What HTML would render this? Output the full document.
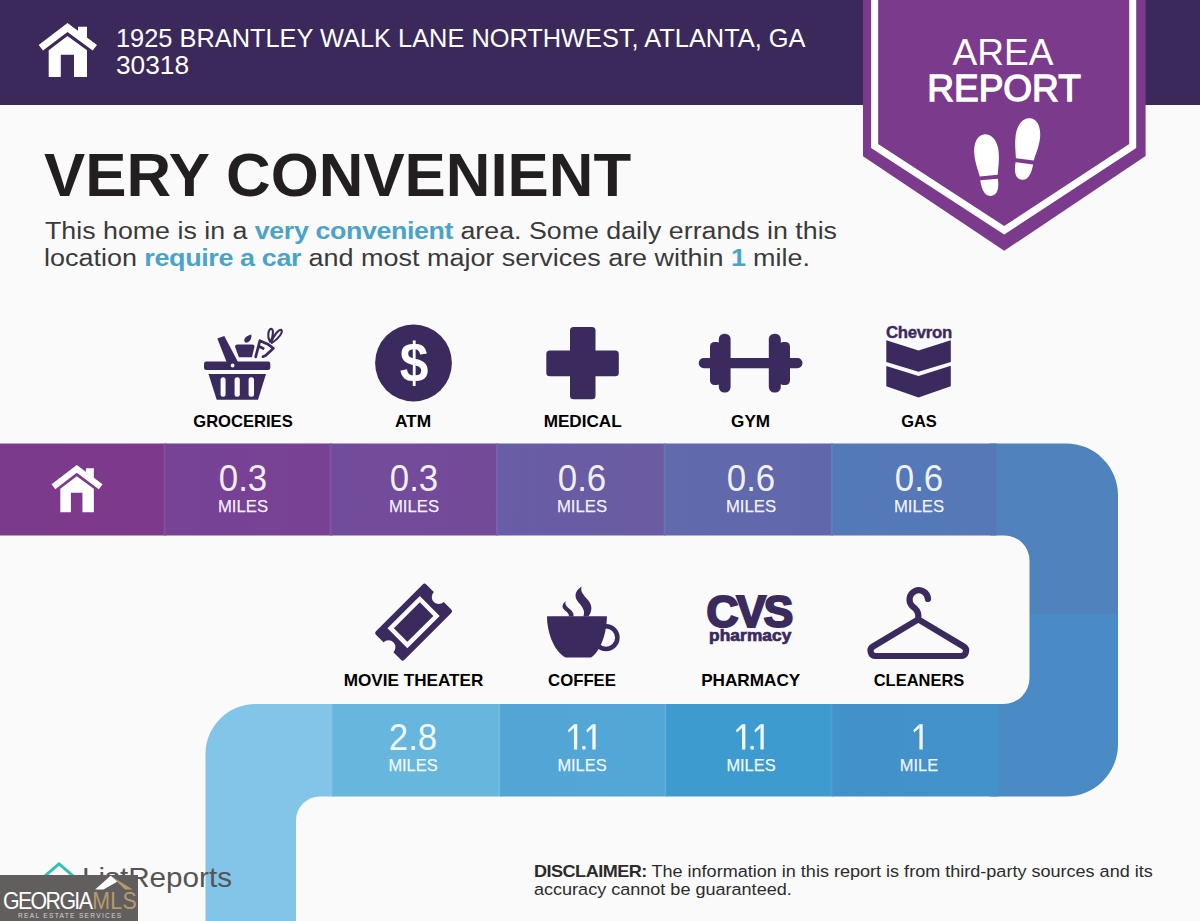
<!DOCTYPE html>
<html>
<head>
<meta charset="utf-8">
<title>Area Report</title>
<style>
html,body{margin:0;padding:0;}
body{width:1200px;height:921px;overflow:hidden;background:#fafafa;font-family:"Liberation Sans",sans-serif;}
#page{position:relative;width:1200px;height:921px;overflow:hidden;background:#fafafa;}
.t{position:absolute;white-space:nowrap;line-height:1;transform-origin:0 0;margin:0;}
.c{transform-origin:50% 0;}
#hdr{position:absolute;left:0;top:0;width:1200px;height:105px;background:#3b295c;}
.addr{color:#fff;font-size:25.5px;left:115.5px;transform:scaleX(0.995);}
.title{color:#231f20;font-size:61.2px;font-weight:700;left:43.7px;top:144.6px;transform:scaleX(1.010);}
.para{color:#3a3a3a;font-size:24.35px;left:45px;transform:scaleX(1.092);}
.para b{color:#4aa3c9;font-weight:700;letter-spacing:-0.35px;}
.lbl{color:#000;font-size:17.15px;font-weight:700;}
.num{color:rgba(255,255,255,0.92);font-size:36.5px;}
.mi{color:rgba(255,255,255,0.92);font-size:17px;-webkit-text-stroke:0.25px rgba(255,255,255,0.9);}
.disc{color:#2b2b2b;font-size:16.3px;left:534px;transform:scaleX(1.108);}
.disc b{letter-spacing:-0.45px;}
svg{position:absolute;left:0;top:0;}
</style>
</head>
<body>
<div id="page">
<div id="hdr"></div>

<!-- ribbon + graphics -->
<svg id="gfx" width="1200" height="921" viewBox="0 0 1200 921">
<defs>
<clipPath id="rib"><path d="M0,443.4 H1066 A52,52 0 0 1 1118,495.4 V744.4 A52,52 0 0 1 1066,796.4 H320 A24,24 0 0 0 296,820.4 V921 H205.5 V754 A50,50 0 0 1 255.5,704 H1003.5 A26,26 0 0 0 1029.5,678 V560.5 A25,25 0 0 0 1004.5,535.5 H0 Z"/></clipPath>
<linearGradient id="g1" x1="0" x2="1"><stop offset="0" stop-color="#7c3a8c"/><stop offset="1" stop-color="#7d3a8c"/></linearGradient>
<linearGradient id="g2" x1="0" x2="1"><stop offset="0" stop-color="#764396"/><stop offset="1" stop-color="#794194"/></linearGradient>
<linearGradient id="g3" x1="0" x2="1"><stop offset="0" stop-color="#724c9c"/><stop offset="1" stop-color="#734a98"/></linearGradient>
<linearGradient id="g4" x1="0" x2="1"><stop offset="0" stop-color="#685da6"/><stop offset="1" stop-color="#6b5ba2"/></linearGradient>
<linearGradient id="g5" x1="0" x2="1"><stop offset="0" stop-color="#606aad"/><stop offset="1" stop-color="#6267ab"/></linearGradient>
<linearGradient id="g6" x1="0" x2="1"><stop offset="0" stop-color="#5479b9"/><stop offset="1" stop-color="#5678b7"/></linearGradient>
<linearGradient id="h3" x1="0" x2="1"><stop offset="0" stop-color="#52a5d5"/><stop offset="1" stop-color="#53a7d6"/></linearGradient>
<linearGradient id="h5" x1="0" x2="1"><stop offset="0" stop-color="#4391cb"/><stop offset="1" stop-color="#4392cc"/></linearGradient>
</defs>
<g clip-path="url(#rib)">
<rect x="990" y="440" width="135" height="174" fill="#5082be"/>
<rect x="990" y="614" width="135" height="190" fill="#4a8ac5"/>
<rect x="0" y="440" width="166" height="100" fill="url(#g1)"/>
<rect x="164" y="440" width="168" height="100" fill="url(#g2)"/>
<rect x="330" y="440" width="168" height="100" fill="url(#g3)"/>
<rect x="496.3" y="440" width="169" height="100" fill="url(#g4)"/>
<rect x="664" y="440" width="169" height="100" fill="url(#g5)"/>
<rect x="831.25" y="440" width="165.25" height="100" fill="url(#g6)"/>
<rect x="200" y="700" width="134" height="225" fill="#83c5e8"/>
<rect x="332.3" y="700" width="169" height="100" fill="#66b6de"/>
<rect x="500" y="700" width="167" height="100" fill="url(#h3)"/>
<rect x="666" y="700" width="167" height="100" fill="#3e9bd0"/>
<rect x="831.75" y="700" width="166.75" height="100" fill="url(#h5)"/>
<g fill="#fff" fill-opacity="0.07">
<rect x="163.5" y="440" width="2" height="100"/><rect x="329.5" y="440" width="2" height="100"/><rect x="495.8" y="440" width="2" height="100"/><rect x="663.5" y="440" width="2" height="100"/><rect x="830.7" y="440" width="2" height="100"/>
<rect x="498" y="700" width="2.5" height="100"/><rect x="664.5" y="700" width="2" height="100"/><rect x="830.5" y="700" width="2" height="100"/>
</g>
</g>

<!-- narrow 1 glyphs --><g fill="#fff" fill-opacity="0.93"><rect x="573.95" y="724.2" width="3.3" height="25.3"/><path d="M573.95,724.2 L567.85,730.20 L568.80,732.50 L573.95,728.10 Z"/><rect x="592.35" y="724.2" width="3.3" height="25.3"/><path d="M592.35,724.2 L586.25,730.20 L587.20,732.50 L592.35,728.10 Z"/><circle cx="583.9" cy="747.7" r="1.95"/><rect x="742.05" y="724.2" width="3.3" height="25.3"/><path d="M742.05,724.2 L735.95,730.20 L736.90,732.50 L742.05,728.10 Z"/><rect x="760.45" y="724.2" width="3.3" height="25.3"/><path d="M760.45,724.2 L754.35,730.20 L755.30,732.50 L760.45,728.10 Z"/><circle cx="752.1" cy="747.7" r="1.95"/><rect x="919.40" y="724.2" width="3.3" height="25.3"/><path d="M919.40,724.2 L913.30,730.20 L914.25,732.50 L919.40,728.10 Z"/></g>
<!-- badge -->
<path d="M863,0 V156.3 L1004.2,250.8 L1145.6,156 V0 Z" fill="#7c3a8d"/>
<path d="M874.65,-5 V146 L1004.2,230.3 L1132.7,146 V-5" fill="none" stroke="#fff" stroke-width="7" stroke-linejoin="miter"/>
<!-- footprints -->
<g fill="#fff">
<g transform="translate(987.3,165.2) rotate(-5)">
<path d="M0,-31 C8,-31 12.5,-22 12.5,-12 C12.5,-3 10.5,4 9.5,10.5 L-8.5,10.5 C-9.5,4 -12,-3 -12,-12 C-12,-22 -8,-31 0,-31 Z"/>
<path d="M-8.3,14.5 L9.3,14.5 C9.8,22 8.5,31 1,31 C-6,31 -8,22 -8.3,14.5 Z"/>
</g>
<g transform="translate(1026.6,149) rotate(7)">
<path d="M0,-31 C8,-31 12,-22 12,-12 C12,-3 9.5,4 8.5,10.5 L-9.5,10.5 C-10.5,4 -12.5,-3 -12.5,-12 C-12.5,-22 -8,-31 0,-31 Z"/>
<path d="M-9.3,14.5 L8.3,14.5 C8,22 6,31 -1,31 C-8.5,31 -9.8,22 -9.3,14.5 Z"/>
</g>
</g>
<!-- house symbol -->
<g id="house" fill="#fff">
<path d="M67.5,23 L97,44.9 L92.7,50.6 L67.5,31.9 L43,50.6 L38.7,44.9 Z"/>
<path d="M78,26.7 H87 V38.4 L78,31.6 Z"/>
<path d="M67.5,35.9 L87,50.2 V77 H74 V54.7 H60.8 V77 H48.7 V50.2 Z"/>
</g>
<g fill="#fff" transform="translate(17.7,444.9) scale(0.875)">
<path d="M67.5,23 L97,44.9 L92.7,50.6 L67.5,31.9 L43,50.6 L38.7,44.9 Z"/>
<path d="M78,26.7 H87 V38.4 L78,31.6 Z"/>
<path d="M67.5,35.9 L87,50.2 V77 H74 V54.7 H60.8 V77 H48.7 V50.2 Z"/>
</g>
<!-- groceries -->
<g fill="#3b2a5e">
<rect x="204" y="361.5" width="66.3" height="8.4" rx="2.2"/>
<path d="M208.5,374 H266 L258,399.7 H216.7 Z"/>
<path d="M217.3,338.6 L224.3,336.1 L238.5,363 L227,363 Z"/>
<path d="M237.6,344.6 H251.9 Q255.2,344.6 254.3,347.6 L251.9,357.3 H238.9 L235.3,347.6 Q234.4,344.6 237.6,344.6 Z"/>
<path d="M251.2,334.5 C252,338 250.5,341.5 246.5,342.8 C243.8,342.5 243.6,339.5 245.5,337.5 C247,336 249,335 251.2,334.5 Z"/>
</g>
<g fill="#fafafa">
<rect x="220.6" y="377.2" width="5" height="19.5" rx="2.5"/>
<rect x="234.6" y="377.2" width="5.2" height="19.5" rx="2.5"/>
<rect x="248.6" y="377.2" width="5.4" height="19.5" rx="2.5"/>
<circle cx="232.6" cy="365.5" r="1.9"/>
</g>
<g fill="none" stroke="#3b2a5e" stroke-linejoin="round" stroke-linecap="round">
<path stroke-width="2.7" d="M255.7,356.9 L259.9,340.7 L268.5,344.6 L273.5,348.3 L265.6,355.6 L262.9,356.7 M259.3,346.5 L263.3,348.5"/>
<path stroke-width="2.1" d="M270,341.6 C266.6,336 268.6,329.2 271.1,328.7 C273.6,329.2 273.6,334.5 270.8,341.6 M271.2,341.6 C274.2,335 278.6,329.2 281.2,329.8 C283.4,332.2 279,338.2 271.8,343"/>
</g>
<!-- atm -->
<circle cx="413.5" cy="363" r="38.4" fill="#3b2a5e"/>
<!-- medical -->
<g fill="#3b2a5e">
<rect x="570" y="327" width="25.5" height="72.3" rx="3.5"/>
<rect x="546.3" y="350.5" width="72.5" height="25.8" rx="3.5"/>
</g>
<!-- gym -->
<g fill="#3b2a5e">
<rect x="698.7" y="358" width="103.8" height="10.2" rx="5.1"/>
<rect x="718.8" y="333.7" width="11.8" height="58.8" rx="5.5"/>
<rect x="768.8" y="333.7" width="12" height="58.8" rx="5.5"/>
<rect x="710" y="342" width="11" height="43" rx="4.5"/>
<rect x="779" y="342" width="11" height="43" rx="4.5"/>
</g>
<!-- chevron -->
<g fill="#3b2a5e">
<path d="M886.3,340.3 L918.5,350.6 L950.8,340.3 V362 L918.5,371.8 L886.3,362 Z"/>
<path d="M886.3,366.1 L918.5,375.9 L950.8,365.8 V386.2 L918.5,397.6 L886.3,386.2 Z"/>
</g>
<!-- ticket -->
<g transform="translate(413.6,622.1) rotate(-45)">
<path fill="#3b2a5e" d="M-33.1,-20.2 H33.1 Q35.6,-20.2 35.6,-17.7 V-7 A7,7 0 0 0 35.6,7 V17.7 Q35.6,20.2 33.1,20.2 H-33.1 Q-35.6,20.2 -35.6,17.7 V7 A7,7 0 0 0 -35.6,-7 V-17.7 Q-35.6,-20.2 -33.1,-20.2 Z"/>
<rect x="-20.6" y="-11.8" width="41.2" height="23.6" fill="none" stroke="#fafafa" stroke-width="4.5"/>
</g>
<!-- coffee -->
<g fill="#3b2a5e">
<path d="M547,616.3 H606.9 C606.9,632 601,651 590.9,657.6 H565.6 C553.5,651 547,632 547,616.3 Z"/>
<path d="M581.6,586.4 C576,590 573.5,595.5 577.5,601 C581.5,606.5 586,610 583.3,616.5 L588.3,616.5 C592.5,611 592.5,605.5 588,600 C583.5,594.5 580,592 581.6,586.4 Z"/>
<path d="M565.6,601.3 C562.5,603.5 561.5,607 564,609.5 C566.5,612 569.5,613.5 568.8,616.5 L573.4,616.5 C574.2,612.5 571.5,610.5 568.5,608 C566,606 564.8,604 565.6,601.3 Z"/>
</g>
<circle cx="606" cy="637.6" r="11.4" fill="none" stroke="#3b2a5e" stroke-width="4.6"/>
<!-- hanger -->
<path d="M928,599 A9.25,9.25 0 1 0 912.8,606.6 Q917.8,610 918.3,615 L918.3,619.4 L873,646.5 A5.12,5.12 0 0 0 875.6,656 H961 A5.12,5.12 0 0 0 963.6,646.5 L918.3,619.4" fill="none" stroke="#3b2a5e" stroke-width="6.2" stroke-linecap="round" stroke-linejoin="round"/>
<!-- listreports logo -->
<path d="M45,875.8 L59,863.8 L73,875.8 V890" fill="none" stroke="#33c2b2" stroke-width="2.9" stroke-linejoin="round" stroke-linecap="round"/>
</svg>

<!-- header text -->
<div class="t addr" style="top:25.9px">1925 BRANTLEY WALK LANE NORTHWEST, ATLANTA, GA</div>
<div class="t addr" style="top:53.3px;transform:scaleX(1.03)">30318</div>

<div class="t title">VERY CONVENIENT</div>
<div class="t para" style="top:218.8px;transform:scaleX(1.100)">This home is in a <b>very convenient</b> area. Some daily errands in this</div>
<div class="t para" style="top:246px;left:44px;transform:scaleX(1.107)">location <b>require a car</b> and most major services are within <b>1</b> mile.</div>

<div class="t c lbl" style="left:243.25px;top:412.9px;transform:translateX(-50%) scaleX(0.967)">GROCERIES</div>
<div class="t c lbl" style="left:413.1px;top:412.9px;transform:translateX(-50%) scaleX(1.01)">ATM</div>
<div class="t c lbl" style="left:582.7px;top:412.9px;transform:translateX(-50%) scaleX(1.0)">MEDICAL</div>
<div class="t c lbl" style="left:750.6px;top:412.9px;transform:translateX(-50%) scaleX(1.0)">GYM</div>
<div class="t c lbl" style="left:919px;top:412.9px;transform:translateX(-50%) scaleX(0.96)">GAS</div>
<div class="t c lbl" style="left:413.5px;top:672.1px;transform:translateX(-50%) scaleX(1.0)">MOVIE THEATER</div>
<div class="t c lbl" style="left:582.4px;top:672.1px;transform:translateX(-50%) scaleX(0.977)">COFFEE</div>
<div class="t c lbl" style="left:750.7px;top:672.1px;transform:translateX(-50%) scaleX(1.0)">PHARMACY</div>
<div class="t c lbl" style="left:919px;top:672.1px;transform:translateX(-50%) scaleX(0.96)">CLEANERS</div>
<div class="t c num" style="left:243px;top:461px;transform:translateX(-50%) scaleX(0.955)">0.3</div>
<div class="t c mi" style="left:243px;top:498.2px;transform:translateX(-50%) scaleX(0.98)">MILES</div>
<div class="t c num" style="left:413.5px;top:461px;transform:translateX(-50%) scaleX(0.955)">0.3</div>
<div class="t c mi" style="left:413.5px;top:498.2px;transform:translateX(-50%) scaleX(0.98)">MILES</div>
<div class="t c num" style="left:582.3px;top:461px;transform:translateX(-50%) scaleX(0.955)">0.6</div>
<div class="t c mi" style="left:582.3px;top:498.2px;transform:translateX(-50%) scaleX(0.98)">MILES</div>
<div class="t c num" style="left:751px;top:461px;transform:translateX(-50%) scaleX(0.955)">0.6</div>
<div class="t c mi" style="left:751px;top:498.2px;transform:translateX(-50%) scaleX(0.98)">MILES</div>
<div class="t c num" style="left:919px;top:461px;transform:translateX(-50%) scaleX(0.955)">0.6</div>
<div class="t c mi" style="left:919px;top:498.2px;transform:translateX(-50%) scaleX(0.98)">MILES</div>
<div class="t c num" style="left:412.7px;top:719.6px;transform:translateX(-50%) scaleX(0.955)">2.8</div>
<div class="t c mi" style="left:413px;top:757.1px;transform:translateX(-50%) scaleX(0.965)">MILES</div>
<div class="t c num" style="left:582.3px;top:719.6px;color:transparent;transform:translateX(-50%) scaleX(0.62)">1.1</div>
<div class="t c mi" style="left:582.3px;top:757.1px;transform:translateX(-50%) scaleX(0.965)">MILES</div>
<div class="t c num" style="left:750.4px;top:719.6px;color:transparent;transform:translateX(-50%) scaleX(0.62)">1.1</div>
<div class="t c mi" style="left:751px;top:757.1px;transform:translateX(-50%) scaleX(0.965)">MILES</div>
<div class="t c num" style="left:918.5px;top:719.6px;color:transparent;transform:translateX(-50%) scaleX(0.62)">1</div>
<div class="t c mi" style="left:919px;top:757.1px;transform:translateX(-50%) scaleX(0.965)">MILE</div>
<div class="t c" style="left:1003.4px;top:33.5px;font-size:37.8px;color:#fff;transform:translateX(-50%) scaleX(0.98)">AREA</div>
<div class="t c" style="left:1004.25px;top:69.8px;font-size:37.6px;color:#fff;-webkit-text-stroke:1.3px #fff;transform:translateX(-50%) scaleX(0.985)">REPORT</div>
<div class="t c" style="left:413.6px;top:336.3px;font-size:54.8px;font-weight:700;color:#fff;transform:translateX(-50%) scaleX(0.94)">$</div>
<div class="t" style="left:886px;top:323.9px;font-size:17.2px;font-weight:700;color:#3b2a5e;-webkit-text-stroke:0.4px #3b2a5e;letter-spacing:-0.3px;transform:scaleX(0.975)">Chevron</div>
<div class="t" style="left:706.6px;top:590.1px;font-size:44.2px;font-weight:700;color:#3b2a5e;-webkit-text-stroke:2.2px #3b2a5e;letter-spacing:-2.1px;">CVS</div>
<div class="t" style="left:708.5px;top:627.7px;font-size:16px;font-weight:700;color:#3b2a5e;-webkit-text-stroke:0.7px #3b2a5e;letter-spacing:0.1px;transform:scaleX(1.08)">pharmacy</div>
<div class="t" style="left:82px;top:864.3px;font-size:27.6px;color:#555;transform:scaleX(1.075)">ListReports</div>
<div style="position:absolute;left:0;top:875px;width:138px;height:46px;background:#625e5d;"></div>
<svg width="140" height="46" viewBox="0 875 140 46" style="left:0;top:875px"><path d="M95.1,889.4 L110.7,875.7 L117.5,881.5 L103.5,889.4 Z" fill="#fff"/><path d="M110.7,875.7 L132.7,889.4 L125,889.4 L114.5,879 Z" fill="#b59a6e"/></svg>
<div class="t" style="left:2.5px;top:890.3px;font-size:23.2px;color:#fff;letter-spacing:-1.75px;transform:scaleX(0.92)">GEORGIA<span style="color:#b59a6e;letter-spacing:0.3px;margin-left:1px">MLS</span></div>
<div class="t" style="left:18px;top:913.4px;font-size:6.6px;color:#d8d4d2;letter-spacing:1.3px;">REAL ESTATE SERVICES</div>


<div class="t disc" style="top:862.8px"><b>DISCLAIMER:</b> The information in this report is from third-party sources and its</div>
<div class="t disc" style="top:881.2px">accuracy cannot be guaranteed.</div>
</div>
</body>
</html>
